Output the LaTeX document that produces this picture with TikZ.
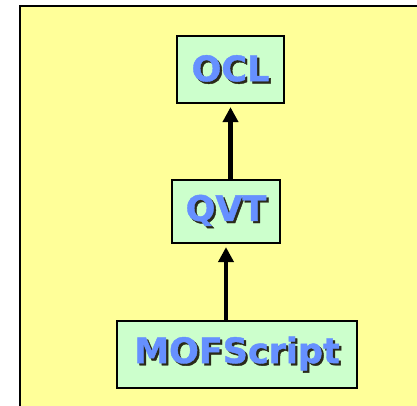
\documentclass[tikz,border=0pt]{standalone}
\usepackage{fontspec}
\setmainfont{DejaVu Sans}
\newfontfamily\heavyfont[FakeBold=1.2]{DejaVu Sans Bold}
\usetikzlibrary{arrows.meta}
\definecolor{bgyellow}{HTML}{FFFF99}
\definecolor{boxgreen}{HTML}{CCFFCC}
\definecolor{textblue}{HTML}{6690FF}
\definecolor{shadowc}{HTML}{2A2A1A}
\newcommand\shtext[1]{\rlap{\kern2.2pt\raisebox{-2.2pt}{\textcolor{shadowc}{#1}}}\textcolor{textblue}{#1}}
\tikzset{
  layerbox/.style={draw=black, line width=2.2pt, fill=boxgreen, inner sep=0pt,
    font=\fontsize{35}{40}\heavyfont, align=center},
  uparrow/.style={line width=4.5pt, -{Triangle[width=15pt,length=15pt]}, shorten >=3pt}
}
\begin{document}
\begin{tikzpicture}[x=1pt,y=-1pt]
\useasboundingbox (0,0) rectangle (417,406);
\fill[bgyellow] (21,7) rectangle (420,410);
\draw[line width=2.5pt] (20,410) -- (20,6) -- (420,6);
\node[layerbox, minimum width=107pt, minimum height=67pt] (ocl) at (230.5,69.5) {\shtext{OCL}};
\node[layerbox, minimum width=108pt, minimum height=63pt] (qvt) at (226,211.5) {\shtext{QVT}};
\node[layerbox, minimum width=240pt, minimum height=67pt] (mof) at (237,354.5) {\shtext{MOFScript}};
\draw[uparrow] (qvt.north -| ocl.south) -- (ocl.south);
\draw[uparrow] (mof.north -| qvt.south) -- (qvt.south);
\end{tikzpicture}
\end{document}
